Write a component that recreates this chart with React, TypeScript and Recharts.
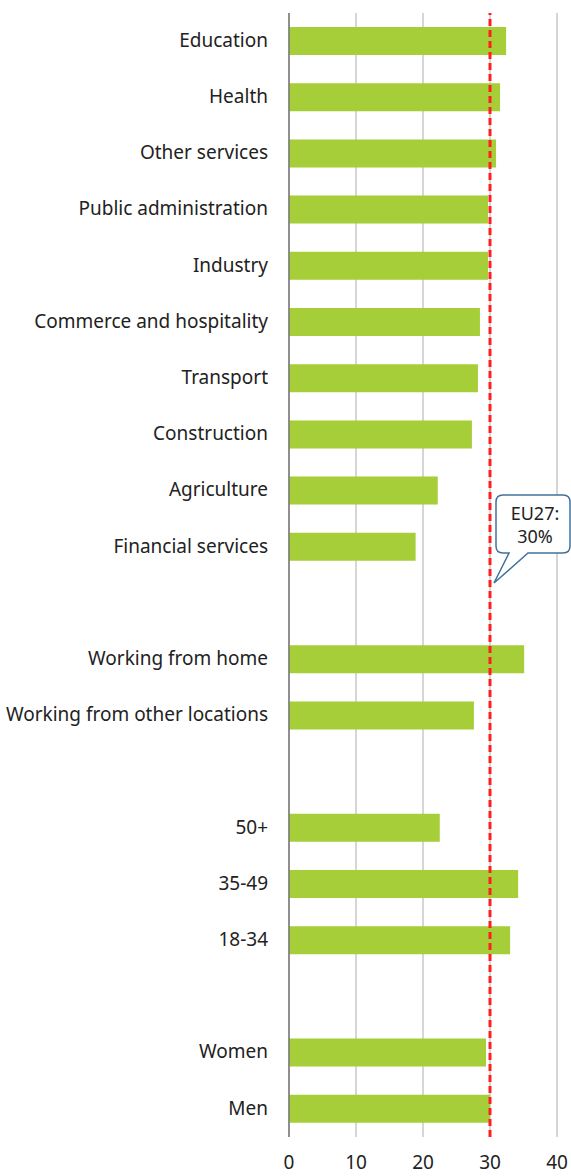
import React from 'react';
import { BarChart, Bar, XAxis, YAxis, CartesianGrid, ReferenceLine } from 'recharts';

// rows top to bottom; empty strings are the spacer rows between groups
const categories = [
  'Education',
  'Health',
  'Other services',
  'Public administration',
  'Industry',
  'Commerce and hospitality',
  'Transport',
  'Construction',
  'Agriculture',
  'Financial services',
  '',
  'Working from home',
  'Working from other locations',
  '',
  '50+',
  '35-49',
  '18-34',
  '',
  'Women',
  'Men',
];

const values: (number | null)[] = [
  32.4, 31.5, 30.9, 29.7, 29.7, 28.5, 28.2, 27.3, 22.2, 18.9,
  null,
  35.1, 27.6,
  null,
  22.5, 34.2, 33.0,
  null,
  29.4, 30.0,
];

const xTicks = [0, 10, 20, 30, 40];
const euAverage = 30;
const calloutLines = ['EU27:', '30%'];

const data = categories.map((name, i) => ({ key: `${i}-${name}`, name, value: values[i] }));

const FONT = '"Noto Sans", sans-serif';
const TEXT = '#222222';

const Callout = (props: any) => {
  const { viewBox } = props;
  if (!viewBox) return null;
  const lx = viewBox.x;
  const top = viewBox.y;
  const tipX = lx + 4;
  const tipY = top + 570;
  const left = lx + 6;
  const right = lx + 80;
  const boxTop = top + 482;
  const boxBottom = top + 540;
  const r = 7;
  const b1 = lx + 19;
  const b2 = lx + 38;
  const path = [
    `M ${left + r} ${boxTop}`,
    `L ${right - r} ${boxTop}`,
    `Q ${right} ${boxTop} ${right} ${boxTop + r}`,
    `L ${right} ${boxBottom - r}`,
    `Q ${right} ${boxBottom} ${right - r} ${boxBottom}`,
    `L ${b2} ${boxBottom}`,
    `L ${tipX} ${tipY}`,
    `L ${b1} ${boxBottom}`,
    `L ${left + r} ${boxBottom}`,
    `Q ${left} ${boxBottom} ${left} ${boxBottom - r}`,
    `L ${left} ${boxTop + r}`,
    `Q ${left} ${boxTop} ${left + r} ${boxTop}`,
    'Z',
  ].join(' ');
  const cx = (left + right) / 2 + 2;
  return (
    <g>
      <path d={path} fill="#ffffff" stroke="#41719C" strokeWidth={1.5} />
      {calloutLines.map((t, i) => (
        <text
          key={t}
          x={cx}
          y={boxTop + 25 + i * 23}
          textAnchor="middle"
          fontFamily={FONT}
          fontSize={18}
          fill={TEXT}
        >
          {t}
        </text>
      ))}
    </g>
  );
};

export default function App() {
  return (
    <div style={{ position: 'absolute', left: 0, top: 0, background: '#fff' }}>
      <BarChart
        width={571}
        height={1176}
        data={data}
        layout="vertical"
        margin={{ top: 13, right: 14, bottom: 9, left: 0 }}
        style={{ fontFamily: FONT }}
      >
        <CartesianGrid horizontal={false} stroke="#c8c8c8" strokeWidth={1.5} />
        <XAxis
          type="number"
          domain={[0, 40]}
          ticks={xTicks}
          axisLine={false}
          tickLine={false}
          tickMargin={13}
          height={30}
          tick={{ fontSize: 19, fill: TEXT, fontFamily: FONT }}
        />
        <YAxis
          type="category"
          dataKey="key"
          width={289}
          axisLine={{ stroke: '#777777', strokeWidth: 1.5 }}
          tickLine={false}
          tickMargin={15}
          interval={0}
          tickFormatter={(v: string) => v.slice(v.indexOf('-') + 1)}
          tick={{ fontSize: 19, fill: TEXT, fontFamily: FONT, dy: -1 }}
        />
        <Bar dataKey="value" fill="#A6CE39" barSize={28} isAnimationActive={false} />
        <ReferenceLine
          x={euAverage}
          stroke="#FF1F1F"
          strokeWidth={3}
          strokeDasharray="7 4"
          label={<Callout />}
        />
      </BarChart>
    </div>
  );
}
